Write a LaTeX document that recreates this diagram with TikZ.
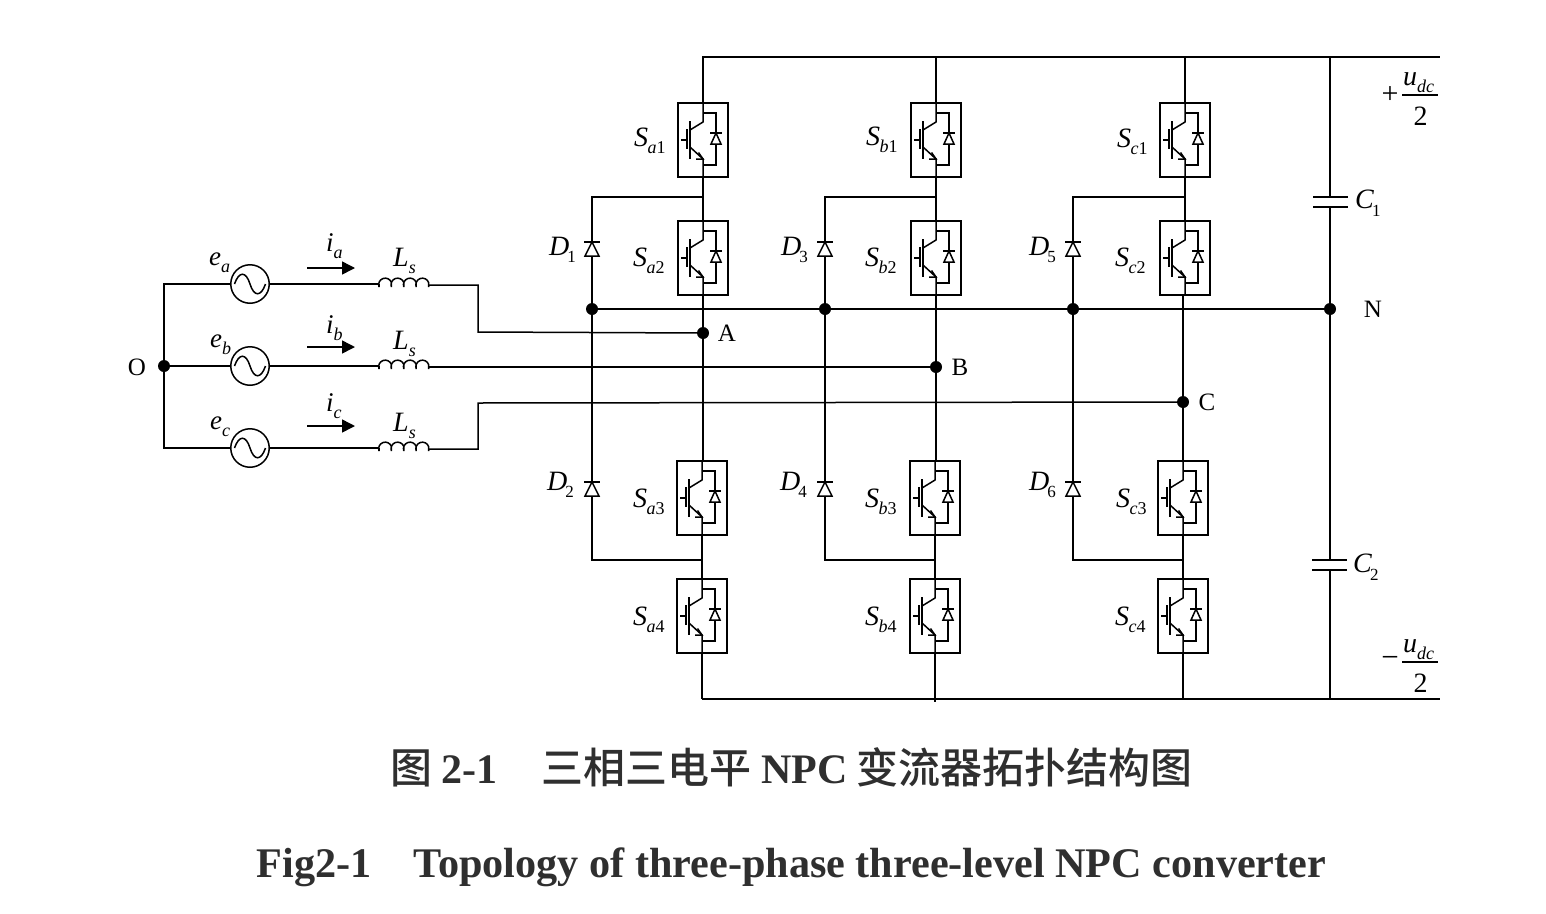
\documentclass[tikz,border=0pt]{standalone}
\usepackage{fontspec}
\setmainfont{Liberation Serif}
\newfontfamily\cjk{Noto Sans CJK SC}[BoldFont={* Medium}]
\usetikzlibrary{arrows.meta,calc}
\definecolor{capcol}{HTML}{2F2F2F}
\newcommand{\fsz}[1]{\fontsize{#1}{#1}\selectfont}
\newcommand{\SW}[2]{{\fsz{28}\textit{S}}\kern-0.5pt\raisebox{-7pt}{\fsz{18}\textit{#1}#2}}
\newcommand{\DD}[1]{{\fsz{28}\textit{D}}\kern-2pt\raisebox{-7pt}{\fsz{17}#1}}
\newcommand{\CC}[1]{{\fsz{28}\textit{C}}\kern-2pt\raisebox{-8pt}{\fsz{17}#1}}
\newcommand{\EE}[1]{{\fsz{27}\textit{e}}\raisebox{-7pt}{\fsz{18}\textit{#1}}}
\newcommand{\II}[1]{{\fsz{27}\textit{i}}\raisebox{-7pt}{\fsz{18}\textit{#1}}}
\newcommand{\LS}{{\fsz{28}\textit{L}}\raisebox{-7pt}{\fsz{18}\textit{s}}}
\newcommand{\UU}{{\fsz{28}\textit{u}}\raisebox{-7pt}{\fsz{18}\textit{dc}}}
\tikzset{
  wire/.style={line width=1.5pt,black},
  swbox/.style={draw,line width=1.5pt,minimum width=50pt,minimum height=74pt,inner sep=0pt},
  jdot/.style={circle,fill=black,minimum size=12pt,inner sep=0pt},
  src/.style={circle,draw,line width=1.5pt,minimum size=38.5pt,inner sep=0pt},
  lab/.style={anchor=base west,inner sep=0pt},
  pin/.style={font=\fsz{25},inner sep=0pt},
  cur/.style={line width=1.5pt,-{Triangle[length=13pt,width=13pt]}}
}
% IGBT with antiparallel diode, box centred on the node
\newcommand{\igbt}[3]{%
  \node[swbox] (#1) at (#2,#3) {};
  \begin{scope}[shift={(#2,#3)},line width=1.5pt]
    \draw (0,-37) -- (0,-18) -- (-13,-10);
    \draw (-13,-19) -- (-13,19);
    \draw (-16,-11) -- (-16,9);
    \draw (-22,0) -- (-16,0);
    \draw (-13,7) -- (0,19) -- (0,37);
    \draw (-4.5,12.5) -- (0,19) -- (-7,19);
    \draw (0,-27) -- (13,-27) -- (13,25) -- (0,25);
    \draw[fill=white] (13,-7) -- (8,4) -- (18,4) -- cycle;
    \draw (7,-7) -- (19,-7);
  \end{scope}}
% upward clamp diode on a vertical wire
\newcommand{\cdiode}[3]{%
  \begin{scope}[shift={(#2,#3)},line width=1.5pt]
    \draw[fill=white] (0,-7) -- (-7,7) -- (7,7) -- cycle;
    \draw (-8,-7) -- (8,-7);
  \end{scope}}
% four-turn inductor: rail enters at y, leaves a little lower
\newcommand{\ind}[3]{%
  \coordinate (#1l) at (#2,#3);
  \coordinate (#1r) at ($(#2,#3)+(50,1)$);
  \draw[line width=1.5pt] (#2,#3) -- ++(0,3)
    arc[start angle=200,end angle=-20,radius=6.6pt]
    arc[start angle=200,end angle=-20,radius=6.6pt]
    arc[start angle=200,end angle=-20,radius=6.6pt]
    arc[start angle=200,end angle=-20,radius=6.6pt] -- ($(#2,#3)+(50,1)$);}
% ac source
\newcommand{\acs}[3]{%
  \node[src] (#1) at (#2,#3) {};
  \begin{scope}[shift={(#2,#3)},line width=1.5pt]
    \draw (-15.5,0) .. controls (-11,-13) and (-4,-13) .. (0,0) .. controls (4,13) and (11,13) .. (15.5,0);
  \end{scope}}
\begin{document}
\begin{tikzpicture}[x=1pt,y=-1pt]
\useasboundingbox (0,0) rectangle (1546,913);
% switches
\igbt{Sa1}{703}{140}\igbt{Sa2}{703}{258}\igbt{Sa3}{702}{498}\igbt{Sa4}{702}{616}
\igbt{Sb1}{936}{140}\igbt{Sb2}{936}{258}\igbt{Sb3}{935}{498}\igbt{Sb4}{935}{616}
\igbt{Sc1}{1185}{140}\igbt{Sc2}{1185}{258}\igbt{Sc3}{1183}{498}\igbt{Sc4}{1183}{616}
% rails
\coordinate (T0) at (702,57); \coordinate (T3) at (1330,57); \coordinate (T4) at (1440,57);
\coordinate (B0) at (702,699); \coordinate (B3) at (1330,699); \coordinate (B4) at (1440,699);
\draw[wire] (T0) -- (T4);
\draw[wire] (B0) -- (B4);
% junction dots
\node[jdot] (JA) at (703,333) {};
\node[jdot] (JB) at (936,367) {};
\node[jdot] (JC) at (1183,402) {};
\node[jdot] (N1) at (592,309) {};
\node[jdot] (N2) at (825,309) {};
\node[jdot] (N3) at (1073,309) {};
\node[jdot] (NN) at (1330,309) {};
\node[jdot] (O) at (164,366) {};
% phase legs
\draw[wire] (Sa1.north |- T0) -- (Sa1.north) (Sa1.south) -- (Sa2.north) (JA |- Sa2.south) -- (JA) -- (JA |- Sa3.north) (Sa3.south) -- (Sa4.north) (Sa4.south) -- (Sa4.south |- B0);
\draw[wire] (Sb1.north |- T0) -- (Sb1.north) (Sb1.south) -- (Sb2.north) (JB |- Sb2.south) -- (JB) -- (JB |- Sb3.north) (Sb3.south) -- (Sb4.north) (Sb4.south) -- ($(Sb4.south |- B0)+(0,3)$);
\draw[wire] (Sc1.north |- T0) -- (Sc1.north) (Sc1.south) -- (Sc2.north) (JC |- Sc2.south) -- (JC) -- (JC |- Sc3.north) (Sc3.south) -- (Sc4.north) (Sc4.south) -- (Sc4.south |- B0);
% clamp loops
\coordinate (a1) at (703,197); \coordinate (a2) at (702,560);
\coordinate (b1) at (936,197); \coordinate (b2) at (935,560);
\coordinate (c1) at (1185,197); \coordinate (c2) at (1183,560);
\draw[wire] (a1) -- (592,197) -- (592,560) -- (a2);
\draw[wire] (b1) -- (825,197) -- (825,560) -- (b2);
\draw[wire] (c1) -- (1073,197) -- (1073,560) -- (c2);
\draw[wire] (N1) -- (N2) -- (N3) -- (NN);
\cdiode{D1}{592}{249}\cdiode{D2}{592}{489}
\cdiode{D3}{825}{249}\cdiode{D4}{825}{489}
\cdiode{D5}{1073}{249}\cdiode{D6}{1073}{489}
% capacitor branch
\coordinate (C1t) at (1330,197); \coordinate (C1b) at (1330,207);
\coordinate (C2t) at (1330,560); \coordinate (C2b) at (1330,570);
\draw[wire] (T3) -- (C1t) (C1b) -- (NN) -- (C2t) (C2b) -- (B3);
\draw[wire] (1313,197) -- (1348,197) (1313,207) -- (1348,207);
\draw[wire] (1312,560) -- (1347,560) (1312,570) -- (1347,570);
% sources and inductors
\acs{ea}{250}{284}\acs{eb}{250}{366}\acs{ec}{250}{448}
\ind{La}{379}{284}\ind{Lb}{379}{366}\ind{Lc}{379}{448}
\draw[wire] (ea.west) -- (164,284) -- (O) -- (164,448) -- (ec.west);
\draw[wire] (O) -- (eb.west);
\draw[wire] (ea.east) -- (Lal);
\draw[wire] (eb.east) -- (Lbl);
\draw[wire] (ec.east) -- (Lcl);
\draw[wire] (Lar) -- (478,285) -- (478,332) -- (JA);
\draw[wire] (Lbr) -- (JB);
\draw[wire] (Lcr) -- (478,449) -- (478,403) -- (JC);
% current arrows
\coordinate (ia0) at (307,268); \coordinate (ia1) at (355,268);
\coordinate (ib0) at (307,347); \coordinate (ib1) at (355,347);
\coordinate (ic0) at (307,426); \coordinate (ic1) at (355,426);
\draw[cur] (ia0) -- (ia1);
\draw[cur] (ib0) -- (ib1);
\draw[cur] (ic0) -- (ic1);
% labels
\node[lab] (tSa1) at (634,146) {\SW{a}{1}};
\node[lab] (tSb1) at (866,145) {\SW{b}{1}};
\node[lab] (tSc1) at (1117,147) {\SW{c}{1}};
\node[lab] (tSa2) at (633,266) {\SW{a}{2}};
\node[lab] (tSb2) at (865,266) {\SW{b}{2}};
\node[lab] (tSc2) at (1115,266) {\SW{c}{2}};
\node[lab] (tSa3) at (633,507) {\SW{a}{3}};
\node[lab] (tSb3) at (865,507) {\SW{b}{3}};
\node[lab] (tSc3) at (1116,507) {\SW{c}{3}};
\node[lab] (tSa4) at (633,625) {\SW{a}{4}};
\node[lab] (tSb4) at (865,625) {\SW{b}{4}};
\node[lab] (tSc4) at (1115,625) {\SW{c}{4}};
\node[lab] (tD1) at (549,255) {\DD{1}};
\node[lab] (tD3) at (781,255) {\DD{3}};
\node[lab] (tD5) at (1029,255) {\DD{5}};
\node[lab] (tD2) at (547,490) {\DD{2}};
\node[lab] (tD4) at (780,490) {\DD{4}};
\node[lab] (tD6) at (1029,490) {\DD{6}};
\node[lab] (tea) at (209,265) {\EE{a}};
\node[lab] (teb) at (210,347) {\EE{b}};
\node[lab] (tec) at (210,429) {\EE{c}};
\node[lab] (tia) at (326,251) {\II{a}};
\node[lab] (tib) at (326,333) {\II{b}};
\node[lab] (tic) at (326,411) {\II{c}};
\node[lab] (tLa) at (393,266) {\LS};
\node[lab] (tLb) at (393,349) {\LS};
\node[lab] (tLc) at (393,431) {\LS};
\node[pin] (tO) at (137,367) {O};
\node[pin] (tA) at (727,333) {A};
\node[pin] (tB) at (960,367) {B};
\node[pin] (tC) at (1207,402) {C};
\node[pin] (tN) at (1373,309) {N};
\node[lab] (tC1) at (1355,208) {\CC{1}};
\node[lab] (tC2) at (1353,572) {\CC{2}};
% dc levels
\node[font=\fsz{30},inner sep=0pt] (pl) at (1390,95) {+};
\draw[line width=1.3pt] (1402,95) -- (1438,95);
\node[lab] (u1) at (1403,85) {\UU};
\node[lab,font=\fsz{28}] (two1) at (1413.5,125) {2};
\node[font=\fsz{31},inner sep=0pt] (mi) at (1390,662) {\textminus};
\draw[line width=1.3pt] (1402,662) -- (1438,662);
\node[lab] (u2) at (1403,652) {\UU};
\node[lab,font=\fsz{28}] (two2) at (1413.5,692) {2};
% captions
\node[anchor=base,inner sep=0pt,text=capcol] (cap1) at (791.5,783) {\fsz{42}\cjk\bfseries 图\ \textrm{2-1}\hspace{1.05em}三相三电平 \textrm{NPC} 变流器拓扑结构图};
\node[anchor=base,inner sep=0pt,text=capcol] (cap2) at (791.5,877) {\fsz{42.2}\bfseries Fig2-1\hspace{1em}Topology of three-phase three-level NPC converter};
\end{tikzpicture}
\end{document}
